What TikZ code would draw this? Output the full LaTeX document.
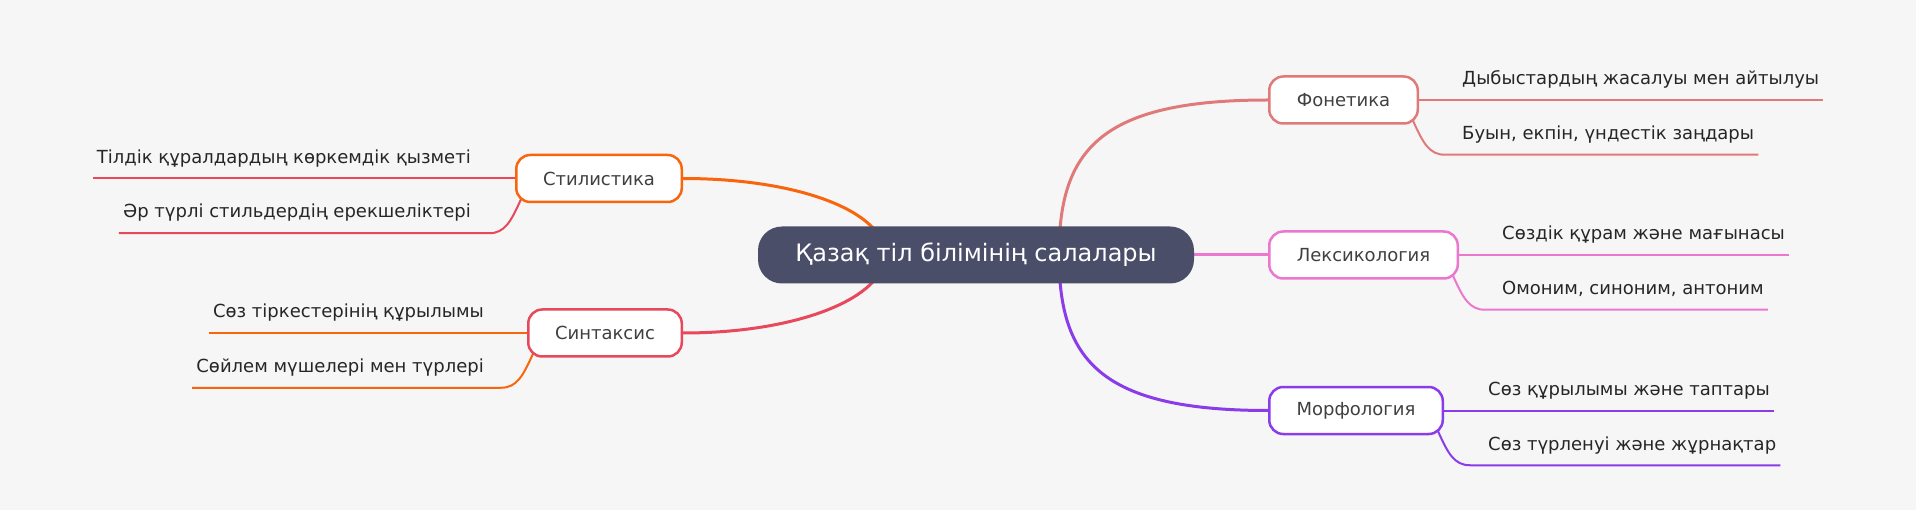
\documentclass[tikz,border=0pt]{standalone}
\usepackage{fontspec}
\setmainfont{DejaVu Sans}
\usetikzlibrary{calc}
\pgfdeclarelayer{bg}
\pgfdeclarelayer{edges}
\pgfsetlayers{bg,edges,main}
\definecolor{cbg}{HTML}{F6F6F6}
\definecolor{croot}{HTML}{4A4E69}
\definecolor{cfon}{HTML}{E07A7A}
\definecolor{clex}{HTML}{EC77CF}
\definecolor{cmor}{HTML}{8A3CEA}
\definecolor{csti}{HTML}{F8650D}
\definecolor{csyn}{HTML}{E8485B}
\definecolor{ctxt}{HTML}{404040}
\definecolor{cleaf}{HTML}{262626}
\begin{document}
\begin{tikzpicture}[x=1pt,y=-1pt,
  rootnode/.style={fill=croot, rounded corners=24pt, minimum width=436pt, minimum height=57pt,
    text=white, font=\fontsize{24}{28}\selectfont, inner sep=0pt},
  branch/.style={draw=#1, fill=white, line width=2.5pt, rounded corners=14pt,
    minimum height=47pt, inner sep=0pt, text=ctxt, font=\fontsize{18}{22}\selectfont},
  leaf/.style={inner sep=0pt, text=cleaf, font=\fontsize{18}{22}\selectfont},
  trunk/.style={draw=#1, line width=3pt},
  twig/.style={draw=#1, line width=2pt},
]
\begin{pgfonlayer}{bg}
\fill[cbg] (0,0) rectangle (1916,510);
\end{pgfonlayer}
\useasboundingbox (0,0) rectangle (1916,510);

% root
\node[rootnode] (root) at (976,255) {Қазақ тіл білімінің салалары};

% branches
\node[branch=cfon, minimum width=148.5pt, anchor=west] (fon) at (1268,100) {Фонетика\hspace{5pt}};
\node[branch=clex, minimum width=188.5pt, anchor=west] (lex) at (1268,255) {Лексикология\hspace{5pt}};
\node[branch=cmor, minimum width=173.5pt, anchor=west] (mor) at (1268,410.5) {Морфология\hspace{5pt}};
\node[branch=csti, minimum width=165.5pt, anchor=east] (sti) at (683,178.5) {Стилистика\hspace{5pt}};
\node[branch=csyn, minimum width=153.5pt, anchor=east] (syn) at (683,333) {Синтаксис\hspace{5pt}};

% leaves
\node[leaf, anchor=base west] (f1) at ($(fon.east)+(43,-15)$) {Дыбыстардың жасалуы мен айтылуы};
\node[leaf, anchor=base west] (f2) at ($(fon.east)+(43,39.5)$) {Буын, екпін, үндестік заңдары};
\node[leaf, anchor=base west] (l1) at ($(lex.east)+(43,-15)$) {Сөздік құрам және мағынасы};
\node[leaf, anchor=base west] (l2) at ($(lex.east)+(43,39.5)$) {Омоним, синоним, антоним};
\node[leaf, anchor=base west] (m1) at ($(mor.east)+(44,-15)$) {Сөз құрылымы және таптары};
\node[leaf, anchor=base west] (m2) at ($(mor.east)+(44,39.5)$) {Сөз түрленуі және жұрнақтар};
\node[leaf, anchor=base east] (s1) at ($(sti.west)+(-44,-15)$) {Тілдік құралдардың көркемдік қызметі};
\node[leaf, anchor=base east] (s2) at ($(sti.west)+(-44,39.5)$) {Әр түрлі стильдердің ерекшеліктері};
\node[leaf, anchor=base east] (y1) at ($(syn.west)+(-43,-15)$) {Сөз тіркестерінің құрылымы};
\node[leaf, anchor=base east] (y2) at ($(syn.west)+(-43,39.5)$) {Сөйлем мүшелері мен түрлері};

% helper coordinates
\coordinate (rt) at (1059,255);
\coordinate (lt) at (885,255);

\begin{pgfonlayer}{edges}
% trunk edges
\draw[trunk=cfon] (rt) .. controls (1059,150) and (1100,100) .. (fon.west);
\draw[trunk=clex] (root.east) -- (lex.west);
\draw[trunk=cmor] (rt) .. controls (1059,360) and (1100,410.5) .. (mor.west);
\draw[trunk=csti] (lt) .. controls (885,212) and (800,178.5) .. (sti.east);
\draw[trunk=csyn] (lt) .. controls (885,297) and (800,333) .. (syn.east);

% right twigs
\draw[twig=cfon] (fon.east) -- ($(f1.east |- fon.east)+(4,0)$);
\draw[twig=cfon] ($(fon.south east)+(-6,-4)$) .. controls +(10,22) and +(-16,0) .. ($(fon.south east)+(26,30)$) -- ($(f2.east |- fon.south east)+(4,30)$);
\draw[twig=clex] (lex.east) -- ($(l1.east |- lex.east)+(4,0)$);
\draw[twig=clex] ($(lex.south east)+(-6,-4)$) .. controls +(10,22) and +(-16,0) .. ($(lex.south east)+(26,30)$) -- ($(l2.east |- lex.south east)+(4,30)$);
\draw[twig=cmor] (mor.east) -- ($(m1.east |- mor.east)+(4,0)$);
\draw[twig=cmor] ($(mor.south east)+(-6,-4)$) .. controls +(10,22) and +(-16,0) .. ($(mor.south east)+(26,30)$) -- ($(m2.east |- mor.south east)+(4,30)$);

% left twigs
\draw[twig=csyn] (sti.west) -- ($(s1.west |- sti.west)+(-4,0)$);
\draw[twig=csyn] ($(sti.south west)+(6,-4)$) .. controls +(-10,22) and +(16,0) .. ($(sti.south west)+(-26,30)$) -- ($(s2.west |- sti.south west)+(-4,30)$);
\draw[twig=csti] (syn.west) -- ($(y1.west |- syn.west)+(-4,0)$);
\draw[twig=csti] ($(syn.south west)+(6,-4)$) .. controls +(-10,22) and +(16,0) .. ($(syn.south west)+(-26,30)$) -- ($(y2.west |- syn.south west)+(-4,30)$);
\end{pgfonlayer}
\end{tikzpicture}
\end{document}
